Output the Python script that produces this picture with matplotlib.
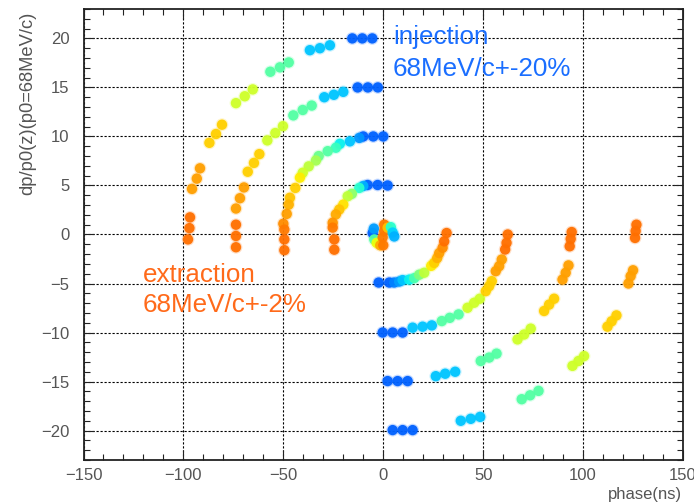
import matplotlib
matplotlib.use('Agg')
import matplotlib.pyplot as plt
from matplotlib.ticker import MultipleLocator, FixedLocator

plt.rcParams['font.family'] = ['Liberation Sans', 'DejaVu Sans']

# ---------------- data (phase in ns, dp/p0 in %) ; c = colour level on jet scale ----------------
arc_p20_x = [-15.5, -10.5, -5.5, -36.7, -31.7, -26.7, -56.5, -51.7, -47.3, -73.7, -69.3, -65.3,
             -87.0, -83.7, -80.7, -95.7, -93.3, -91.7, -96.7, -97.0, -97.7]
arc_p20_y = [20.0, 20.0, 20.0, 18.8, 19.0, 19.3, 16.6, 17.05, 17.55, 13.4, 14.1, 14.8,
             9.35, 10.25, 11.2, 4.65, 5.7, 6.75, 1.75, 0.65, -0.5]
arc_p20_c = [0.22, 0.22, 0.22, 0.32, 0.32, 0.32, 0.45, 0.45, 0.45, 0.60, 0.60, 0.60,
             0.69, 0.69, 0.69, 0.74, 0.74, 0.74, 0.79, 0.79, 0.79]

arc_p15_x = [-12.8, -7.7, -2.7, -29.5, -24.7, -20.0, -45.0, -40.3, -35.8, -58.0, -54.0, -50.2,
             -67.8, -64.7, -62.0, -73.7, -71.7, -69.7, -73.7, -73.7, -73.7]
arc_p15_y = [15.0, 15.0, 15.0, 14.0, 14.25, 14.55, 12.15, 12.7, 13.15, 9.6, 10.35, 11.05,
             6.4, 7.3, 8.2, 2.65, 3.7, 4.8, 1.0, -0.15, -1.3]
arc_p15_c = [0.22, 0.22, 0.22, 0.32, 0.32, 0.32, 0.45, 0.45, 0.45, 0.60, 0.60, 0.60,
             0.69, 0.69, 0.69, 0.74, 0.74, 0.74, 0.79, 0.79, 0.79]

arc_p10_x = [-10.0, -5.0, 0.0, -12.0, -16.7, -21.7, -23.7, -27.8, -32.3, -33.7, -37.3, -40.3,
             -41.7, -44.0, -46.7, -47.3, -48.3, -50.0, -49.5, -49.5, -49.5]
arc_p10_y = [10.0, 10.0, 10.0, 9.85, 9.5, 9.25, 8.85, 8.5, 8.0, 7.55, 6.95, 6.3,
             5.8, 4.75, 3.75, 3.05, 2.1, 1.1, 0.5, -0.5, -1.6]
arc_p10_c = [0.22, 0.22, 0.22, 0.27, 0.32, 0.36, 0.42, 0.45, 0.48, 0.55, 0.58, 0.60,
             0.66, 0.69, 0.70, 0.72, 0.74, 0.76, 0.78, 0.79, 0.79]

arc_p5_x = [-7.8, -2.8, 2.2, -10.0, -12.0, -15.7, -17.8, -20.0, -22.0, -23.7, -25.3, -25.3, -24.5, -24.5]
arc_p5_y = [5.05, 5.05, 5.0, 4.95, 4.75, 4.15, 3.9, 3.05, 2.55, 2.05, 1.2, 0.7, -0.5, -1.55]
arc_p5_c = [0.22, 0.22, 0.22, 0.30, 0.40, 0.52, 0.58, 0.67, 0.70, 0.73, 0.75, 0.78, 0.79, 0.79]

center_x = [-5.3, -4.7, -4.5, -3.3, -1.5, 0.0, -0.3, 0.5, 0.5, 2.2, 3.8, 4.7, 5.5]
center_y = [0.15, 0.6, -0.5, -0.85, -1.1, -1.1, -0.3, 0.35, 1.0, 0.7, 0.75, 0.2, -0.2]
center_c = [0.22, 0.28, 0.45, 0.64, 0.73, 0.78, 0.78, 0.78, 0.78, 0.70, 0.40, 0.33, 0.30]

arc_m5_x = [-2.3, 3.0, 5.5, 8.0, 9.7, 13.0, 15.5, 18.0, 20.5, 24.0, 25.5, 27.0, 28.0, 29.7, 30.5, 31.7]
arc_m5_y = [-4.9, -4.9, -4.9, -4.8, -4.65, -4.6, -4.45, -4.1, -3.9, -3.2, -2.9, -2.4, -1.9, -1.35, -0.7, 0.15]
arc_m5_c = [0.22, 0.22, 0.25, 0.28, 0.32, 0.36, 0.44, 0.50, 0.58, 0.66, 0.69, 0.72, 0.74, 0.76, 0.79, 0.79]

arc_m10_x = [-0.3, 4.7, 9.7, 14.7, 19.7, 24.3, 29.3, 33.3, 37.7, 42.2, 45.5, 48.3,
             51.3, 53.0, 54.3, 56.3, 58.0, 59.3, 61.0, 61.7, 62.3]
arc_m10_y = [-10.0, -10.0, -10.0, -9.5, -9.4, -9.27, -8.83, -8.5, -8.15, -7.47, -6.96, -6.55,
             -5.78, -5.27, -4.76, -3.74, -3.23, -2.55, -1.53, -0.85, 0.0]
arc_m10_c = [0.22, 0.22, 0.22, 0.32, 0.32, 0.32, 0.45, 0.45, 0.45, 0.60, 0.60, 0.60,
             0.69, 0.69, 0.69, 0.74, 0.74, 0.74, 0.79, 0.79, 0.79]

arc_m15_x = [2.2, 7.2, 12.2, 26.3, 31.0, 36.0, 48.8, 53.0, 56.7, 67.2, 70.5, 73.8,
             80.5, 83.0, 85.5, 89.7, 91.3, 92.7, 93.3, 93.8, 94.3]
arc_m15_y = [-14.95, -14.95, -14.95, -14.45, -14.2, -14.0, -12.9, -12.55, -12.15, -10.7, -10.2, -9.6,
             -7.8, -7.15, -6.55, -4.6, -3.9, -3.15, -1.2, -0.45, 0.25]
arc_m15_c = [0.22, 0.22, 0.22, 0.32, 0.32, 0.32, 0.45, 0.45, 0.45, 0.60, 0.60, 0.60,
             0.69, 0.69, 0.69, 0.74, 0.74, 0.74, 0.79, 0.79, 0.79]

arc_m20_x = [4.7, 9.7, 14.7, 38.8, 43.8, 48.5, 69.3, 73.5, 77.7, 94.7, 97.7, 100.5,
             112.2, 114.3, 116.7, 122.7, 123.8, 125.0, 126.0, 126.3, 126.7]
arc_m20_y = [-19.95, -19.95, -19.95, -19.0, -18.8, -18.6, -16.8, -16.4, -15.95, -13.4, -12.9, -12.4,
             -9.4, -8.85, -8.25, -5.0, -4.25, -3.65, -0.35, 0.35, 1.0]
arc_m20_c = [0.22, 0.22, 0.22, 0.32, 0.32, 0.32, 0.45, 0.45, 0.45, 0.60, 0.60, 0.60,
             0.69, 0.69, 0.69, 0.74, 0.74, 0.74, 0.79, 0.79, 0.79]

x_ticks = [-150, -100, -50, 0, 50, 100, 150]
y_ticks = [-20, -15, -10, -5, 0, 5, 10, 15, 20]
x_label = "phase(ns)"
y_label = "dp/p0(z)(p0=68MeV/c)"
inj_lines = ["injection", "68MeV/c+-20%"]
ext_lines = ["extraction", "68MeV/c+-2%"]

# ---------------- figure ----------------
W, H = 694, 504
fig = plt.figure(figsize=(W / 100, H / 100), dpi=100)
fig.patch.set_facecolor('white')
ax = fig.add_axes([83.5 / W, 1 - 460 / H, (683 - 83.5) / W, (460 - 9) / H])

arcs = [(arc_p20_x, arc_p20_y, arc_p20_c), (arc_p15_x, arc_p15_y, arc_p15_c),
        (arc_p10_x, arc_p10_y, arc_p10_c), (arc_p5_x, arc_p5_y, arc_p5_c),
        (center_x, center_y, center_c),
        (arc_m5_x, arc_m5_y, arc_m5_c), (arc_m10_x, arc_m10_y, arc_m10_c),
        (arc_m15_x, arc_m15_y, arc_m15_c), (arc_m20_x, arc_m20_y, arc_m20_c)]
for xs, ys, cs in arcs:
    ax.scatter(xs, ys, c=cs, cmap='jet', vmin=0, vmax=1, s=85, linewidths=0,
               alpha=0.22, zorder=3)
    ax.scatter(xs, ys, c=cs, cmap='jet', vmin=0, vmax=1, s=56, linewidths=0,
               alpha=0.95, zorder=4)

ax.set_xlim(-150, 150)
ax.set_ylim(-23, 23)
ax.xaxis.set_major_locator(FixedLocator(x_ticks))
ax.yaxis.set_major_locator(FixedLocator(y_ticks))
ax.xaxis.set_minor_locator(MultipleLocator(10))
ax.yaxis.set_minor_locator(MultipleLocator(1))
ax.grid(True, which='major', color='black', linestyle=(0, (2.0, 1.6)), linewidth=0.8, zorder=1)
ax.set_axisbelow(True)

ax.tick_params(which='both', direction='in', top=True, right=True, color='#222222',
               labelcolor='#555555', labelsize=12, width=0.8)
ax.tick_params(which='major', length=7)
ax.tick_params(which='minor', length=4.5)
ax.tick_params(axis='x', which='major', pad=5.5)
ax.tick_params(axis='y', which='major', pad=10)
for sp in ax.spines.values():
    sp.set_linewidth(1.3)
    sp.set_color('#222222')

# labels
fig.text(28 / W, 1 - 12 / H, y_label, rotation=90, ha='center', va='top',
         fontsize=13.2, color='#555555')
fig.text(682 / W, 1 - 494 / H, x_label, ha='right', va='center', fontsize=12, color='#555555')

# annotations
inj_col = '#1a6eff'
ext_col = '#ff6a1a'
fig.text(393 / W, 1 - 44 / H, inj_lines[0], ha='left', va='baseline', fontsize=18.7, color=inj_col)
fig.text(393 / W, 1 - 76 / H, inj_lines[1], ha='left', va='baseline', fontsize=18.7, color=inj_col)
fig.text(143 / W, 1 - 282.5 / H, ext_lines[0], ha='left', va='baseline', fontsize=18.7, color=ext_col)
fig.text(143 / W, 1 - 312.5 / H, ext_lines[1], ha='left', va='baseline', fontsize=18.7, color=ext_col)

fig.savefig('out.png', dpi=100, facecolor='white')
